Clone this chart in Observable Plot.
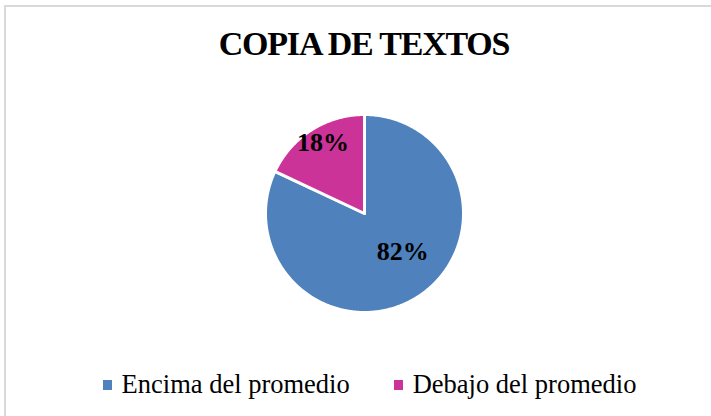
<!DOCTYPE html>
<html><head><meta charset="utf-8">
<script src="https://cdn.jsdelivr.net/npm/d3@7"></script>
<script src="https://cdn.jsdelivr.net/npm/@observablehq/plot@0.6"></script>
<style>
body{margin:0;background:#fff;width:711px;height:416px;overflow:hidden;position:relative;font-family:"Liberation Serif","Times New Roman",serif}
#frame{position:absolute;left:4px;top:5px;width:740px;height:440px;border:2px solid #d9d9d9;box-sizing:border-box}
#title{position:absolute;left:4px;width:720px;top:27px;text-align:center;font-weight:bold;font-size:34px;line-height:34px;letter-spacing:-1.2px;color:#000}
#chart{position:absolute;left:0;top:90px}
#legend{position:absolute;top:371px;left:4px;width:720px;padding-left:11px;box-sizing:border-box;display:flex;justify-content:center;font-size:26.5px;line-height:26px;color:#000}
.item{display:flex;align-items:center;margin:0 22px}
.sw{width:9px;height:10px;margin-right:10px;margin-top:1px}
</style></head>
<body>
<div id="frame"></div>
<div id="title">COPIA DE TEXTOS</div>
<div id="chart"></div>
<div id="legend"></div>
<script>
const categories = ["Encima del promedio", "Debajo del promedio"];
const values = [82, 18];
const labels = ["82%", "18%"];
const colors = ["#4F81BD", "#CC3399"];

const k = 99; // px per unit radius
const W = 711, H = 260, cx = 364, cy = 123;
const total = d3.sum(values);
const pts = [];
const labs = [];
let acc = 0;
values.forEach((v, i) => {
  const a0 = acc / total * 2 * Math.PI;
  acc += v;
  const a1 = acc / total * 2 * Math.PI;
  pts.push({cat: categories[i], x: 0, y: 0});
  const n = Math.max(2, Math.ceil((a1 - a0) / (Math.PI / 360)));
  for (let j = 0; j <= n; j++) {
    const a = a0 + (a1 - a0) * j / n;
    pts.push({cat: categories[i], x: Math.sin(a), y: Math.cos(a)});
  }
  const am = (a0 + a1) / 2;
  const r = i === 0 ? 0.55 : 0.82;
  labs.push({text: labels[i], x: r * Math.sin(am), y: r * Math.cos(am)});
});

const chart = Plot.plot({
  width: W, height: H, margin: 0,
  style: {fontFamily: "'Liberation Serif','Times New Roman',serif", background: "transparent"},
  x: {domain: [-cx / k, (W - cx) / k], axis: null},
  y: {domain: [-(H - cy) / k, cy / k], axis: null},
  color: {domain: categories, range: colors},
  marks: [
    Plot.line(pts, {x: "x", y: "y", z: "cat", fill: "cat", stroke: "white", strokeWidth: 3, curve: "linear-closed"}),
    Plot.text(labs.filter(d => d.text === "82%"), {x: "x", y: "y", text: "text", fontSize: 26, fontWeight: "bold", fill: "black", dx: 9, dy: -8}),
    Plot.text(labs.filter(d => d.text === "18%"), {x: "x", y: "y", text: "text", fontSize: 26, fontWeight: "bold", fill: "black", dx: 2, dy: -2})
  ]
});
document.getElementById("chart").appendChild(chart);

const leg = d3.select("#legend");
categories.forEach((c, i) => {
  const it = leg.append("div").attr("class", "item");
  it.append("div").attr("class", "sw").style("background", colors[i]);
  it.append("span").text(c);
});
</script>
</body></html>
